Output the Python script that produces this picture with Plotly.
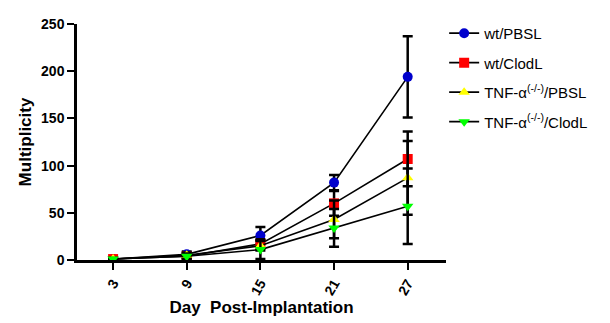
import plotly.graph_objects as go

days = ["3", "9", "15", "21", "27"]
series_names = ["wt/PBSL", "wt/ClodL", "TNF-α<sup>(-/-)</sup>/PBSL", "TNF-α<sup>(-/-)</sup>/ClodL"]
wt_pbsl = [1, 6, 26, 82, 194]
wt_pbsl_err = [1, 3, 9, 8, 43]
wt_clodl = [1, 4, 17, 60, 107]
wt_clodl_err = [1, 3, 5, 13, 29]
tnf_pbsl = [1, 5, 15, 43, 87]
tnf_pbsl_err = [1, 3, 5, 20, 39]
tnf_clodl = [1, 4, 11, 34, 57]
tnf_clodl_err = [1, 3, 10, 20, 40]

values = [wt_pbsl, wt_clodl, tnf_pbsl, tnf_clodl]
errors = [wt_pbsl_err, wt_clodl_err, tnf_pbsl_err, tnf_clodl_err]
colors = ["#0000cc", "#ff0000", "#ffff00", "#00ff00"]
symbols = ["circle", "square", "triangle-up", "triangle-down"]

fig = go.Figure()
for i in range(4):
    fig.add_trace(go.Scatter(
        x=days, y=values[i], name=series_names[i], mode="lines+markers",
        line=dict(color="black", width=1.6),
        marker=dict(color=colors[i], symbol=symbols[i], size=10, line=dict(width=0)),
        error_y=dict(type="data", array=errors[i], color="black", thickness=2.5, width=5),
        legendgroup=str(i),
    ))

font = "Arial, Liberation Sans, sans-serif"
fig.update_layout(
    width=610, height=323,
    margin=dict(l=69, r=172, t=9, b=71),
    paper_bgcolor="white", plot_bgcolor="white",
    font=dict(family=font, color="black"),
    showlegend=True,
    legend=dict(x=0.995, y=1.03, xanchor="left", yanchor="top",
                font=dict(size=15, family=font, color="black"),
                itemwidth=30,
                tracegroupgap=7, bgcolor="rgba(0,0,0,0)"),
    xaxis=dict(type="category", range=[-0.49, 4.52], showline=True, linecolor="black", linewidth=2.5,
               ticks="outside", ticklen=7, tickwidth=2, tickcolor="black", tickangle=-60,
               tickfont=dict(size=14, family=font, color="black", weight="bold"),
               showgrid=False, zeroline=False,
               title=dict(text="<b>Day  Post-Implantation</b>", font=dict(size=17), standoff=2)),
    yaxis=dict(range=[0, 250], tickvals=[0, 50, 100, 150, 200, 250], showline=True, linecolor="black",
               linewidth=2.5, ticks="outside", ticklen=7, tickwidth=2, tickcolor="black",
               tickfont=dict(size=14, family=font, color="black", weight="bold"),
               showgrid=False, zeroline=False,
               title=dict(text="<b>Multiplicity</b>", font=dict(size=17), standoff=6)),
)
fig.write_html("out.html")
